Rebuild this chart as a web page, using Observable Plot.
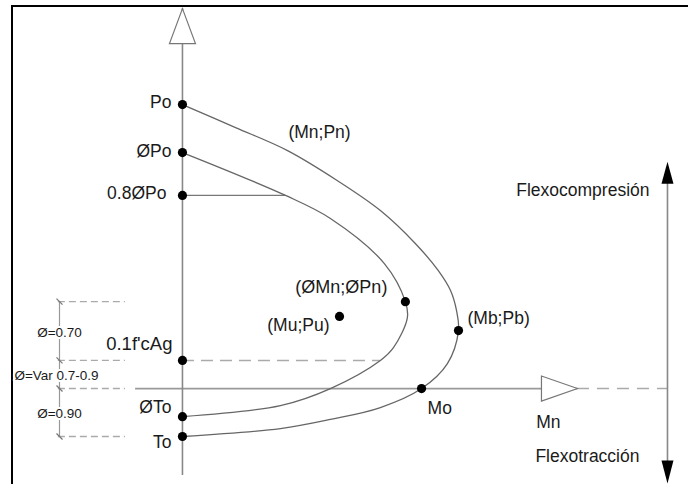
<!DOCTYPE html>
<html><head><meta charset="utf-8">
<script src="https://cdn.jsdelivr.net/npm/d3@7"></script>
<script src="https://cdn.jsdelivr.net/npm/@observablehq/plot@0.6"></script>
<style>
html,body{margin:0;padding:0;background:#fff;}
#frame{position:absolute;left:11px;top:5px;border-top:2px solid #000;border-left:2px solid #000;width:675px;height:477px;overflow:visible;}
</style></head><body><div id="frame"></div>
<script>
// Outer interaction curve (Mn;Pn), M and P in arbitrary units
const outerM = [0, 18.7, 37.0, 54.6, 69.7, 82.0, 90.1, 94.4, 96.5, 97.2, 93.3, 84.2, 69.7, 52.1, 34.5, 0];
const outerP = [100, 91.9, 83.8, 73.2, 62.7, 51.1, 41.5, 34.5, 27.5, 20.4, 8.8, 0, -6.7, -10.9, -14.1, -16.9];
// Design curve (ØMn;ØPn)
const innerM = [0, 36.3, 52.1, 71.1, 78.5, 79.2, 74.3, 69.7, 52.1, 34.5, 0];
const innerP = [83.1, 68.0, 59.9, 44.0, 30.6, 25.0, 14.4, 9.9, 0, -6.0, -9.9];

// Points on the P axis
const axisLabels = ["Po", "ØPo", "0.8ØPo", "0.1f'cAg", "ØTo", "To"];
const axisValues = [100, 83.1, 68.0, 9.9, -9.9, -16.9];

// Named points
const pointNames = ["Mo", "(Mb;Pb)", "(ØMn;ØPn)", "(Mu;Pu)"];
const pointM = [84.2, 97.2, 78.5, 55.3];
const pointP = [0, 20.4, 30.6, 25.4];

// Ø zones
const phiLabels = ["Ø=0.70", "Ø=Var 0.7-0.9", "Ø=0.90"];
const phiLevels = [30.6, 9.9, 0, -16.9];
const dimM = -43.3, dimFrom = -43.7, dimTo = -20.1;

// Lines ending on the design curve
const cut08M = 36.3;   // 0.8ØPo line meets ØMn curve
const cut01M = 69.7;   // 0.1f'cAg line meets ØMn curve

// Axes and arrows
const mAxisStart = -16.5, mArrowTip = 139.1, mAxisEnd = 170.8;
const pAxisStart = -30.6, pArrowTip = 133.8;
const sideTop = 79.9, sideBottom = -33.45;

// Free annotations
const notes = ["(Mn;Pn)", "Mn", "Flexocompresión", "Flexotracción"];
const noteM = [37.3, 124.6, mAxisEnd, mAxisEnd];
const noteP = [90.1, -12.0, 69.7, -23.9];

const curveData = (ms, ps) => ms.map((m, i) => ({m, p: ps[i]}));

const upHollow = {draw(c){c.moveTo(0,0);c.lineTo(-13,35);c.lineTo(13,35);c.closePath();}};
const rightHollow = {draw(c){c.moveTo(0,0);c.lineTo(-36,-12.5);c.lineTo(-36,12.5);c.closePath();}};
const upSolid = {draw(c){c.moveTo(0,0);c.lineTo(-6,22);c.lineTo(6,22);c.closePath();}};
const downSolid = {draw(c){c.moveTo(0,0);c.lineTo(-6,-23);c.lineTo(6,-23);c.closePath();}};
const slash = {draw(c){c.moveTo(-3,-3);c.lineTo(3,3);}};

const ink = "#1a1a1a";
const txt = (i, xs, ys, labels, o) => Plot.text([i], {
  x: j => xs[j], y: j => ys[j], text: j => labels[j], fill: ink, fontSize: 17.5, ...o
});

const phiMid = [0, 1, 2].map(i => (phiLevels[i] + phiLevels[i + 1]) / 2);
const zeros = axisValues.map(() => 0);
const dims = phiLabels.map(() => dimM);

const chart = Plot.plot({
  width: 675, height: 477, margin: 0,
  x: {domain: [-59.5, 178.2], axis: null},
  y: {domain: [-33.8, 134.2], axis: null},
  style: {fontFamily: "'Liberation Sans', Arial, sans-serif", background: "white", overflow: "visible"},
  marks: [
    // dimension dashed lines & vertical dimension line
    Plot.ruleY(phiLevels, {y: d => d, x1: dimFrom, x2: dimTo, stroke: "#aaa", strokeWidth: 1.4, strokeDasharray: "7,4"}),
    Plot.ruleX([dimM], {x: d => d, y1: phiLevels[3], y2: phiLevels[0], stroke: "#999", strokeWidth: 1.2}),
    Plot.dot(phiLevels, {x: () => dimM, y: d => d, symbol: slash, stroke: "#777", strokeWidth: 1.2, fill: "none"}),
    // 0.1f'cAg dashed line
    Plot.ruleY([axisValues[3]], {y: d => d, x1: 0, x2: cut01M, stroke: "#aaa", strokeWidth: 1.5, strokeDasharray: "12,7"}),
    // 0.8ØPo line
    Plot.ruleY([axisValues[2]], {y: d => d, x1: 0, x2: cut08M, stroke: "#777", strokeWidth: 1.3}),
    // M axis
    Plot.ruleY([0], {y: d => d, x1: mAxisStart, x2: mArrowTip, stroke: "#999", strokeWidth: 1.8}),
    Plot.ruleY([0], {y: d => d, x1: mArrowTip, x2: mAxisEnd, stroke: "#aaa", strokeWidth: 1.6, strokeDasharray: "12,8"}),
    // P axis
    Plot.ruleX([0], {x: d => d, y1: pAxisStart, y2: pArrowTip, stroke: "#888", strokeWidth: 1.6}),
    // side double arrow
    Plot.ruleX([mAxisEnd], {x: d => d, y1: sideBottom + 5, y2: sideTop - 5, stroke: "#888", strokeWidth: 1.6}),
    // curves
    Plot.line(curveData(outerM, outerP), {x: "m", y: "p", curve: "catmull-rom", stroke: "#666", strokeWidth: 1.3}),
    Plot.line(curveData(innerM, innerP), {x: "m", y: "p", curve: "catmull-rom", stroke: "#666", strokeWidth: 1.3}),
    // arrowheads
    Plot.dot([0], {x: () => 0, y: () => pArrowTip, symbol: upHollow, fill: "white", stroke: "#777", strokeWidth: 1.2}),
    Plot.dot([0], {x: () => mArrowTip, y: () => 0, symbol: rightHollow, fill: "white", stroke: "#777", strokeWidth: 1.2}),
    Plot.dot([0], {x: () => mAxisEnd, y: () => sideTop, symbol: upSolid, fill: "#000", stroke: "none"}),
    Plot.dot([0], {x: () => mAxisEnd, y: () => sideBottom, symbol: downSolid, fill: "#000", stroke: "none"}),
    // points
    Plot.dot(axisValues, {x: () => 0, y: d => d, r: 4.6, fill: "#000", stroke: "none"}),
    Plot.dot(pointM, {x: d => d, y: (d, i) => pointP[i], r: 4.6, fill: "#000", stroke: "none"}),
    // axis labels
    txt(0, zeros, axisValues, axisLabels, {textAnchor: "end", dx: -11, dy: -2}),
    txt(1, zeros, axisValues, axisLabels, {textAnchor: "end", dx: -11, dy: -1}),
    txt(2, zeros, axisValues, axisLabels, {textAnchor: "end", dx: -16, dy: -2}),
    txt(3, zeros, axisValues, axisLabels, {textAnchor: "end", dx: -10, dy: -16, fontSize: 18.5}),
    txt(4, zeros, axisValues, axisLabels, {textAnchor: "end", dx: -11, dy: -9}),
    txt(5, zeros, axisValues, axisLabels, {textAnchor: "end", dx: -11, dy: 6}),
    // point labels
    txt(0, pointM, pointP, pointNames, {textAnchor: "start", dx: 6, dy: 20}),
    txt(1, pointM, pointP, pointNames, {textAnchor: "start", dx: 9, dy: -12}),
    txt(2, pointM, pointP, pointNames, {textAnchor: "end", dx: -18, dy: -14, fontSize: 18}),
    txt(3, pointM, pointP, pointNames, {textAnchor: "end", dx: -10, dy: 9}),
    // notes
    txt(0, noteM, noteP, notes, {textAnchor: "start"}),
    txt(1, noteM, noteP, notes, {textAnchor: "start"}),
    txt(2, noteM, noteP, notes, {textAnchor: "end", dx: -18}),
    txt(3, noteM, noteP, notes, {textAnchor: "end", dx: -28}),
    // Ø zone labels
    txt(0, dims, phiMid, phiLabels, {fontSize: 13.5, dy: 2, stroke: "white", strokeWidth: 4, paintOrder: "stroke"}),
    txt(1, dims, phiMid, phiLabels, {fontSize: 13.5, dx: -3, dy: 1, stroke: "white", strokeWidth: 4, paintOrder: "stroke"}),
    txt(2, dims, phiMid, phiLabels, {fontSize: 13.5, dy: 1, stroke: "white", strokeWidth: 4, paintOrder: "stroke"})
  ]
});
document.getElementById("frame").appendChild(chart);
</script></body></html>
